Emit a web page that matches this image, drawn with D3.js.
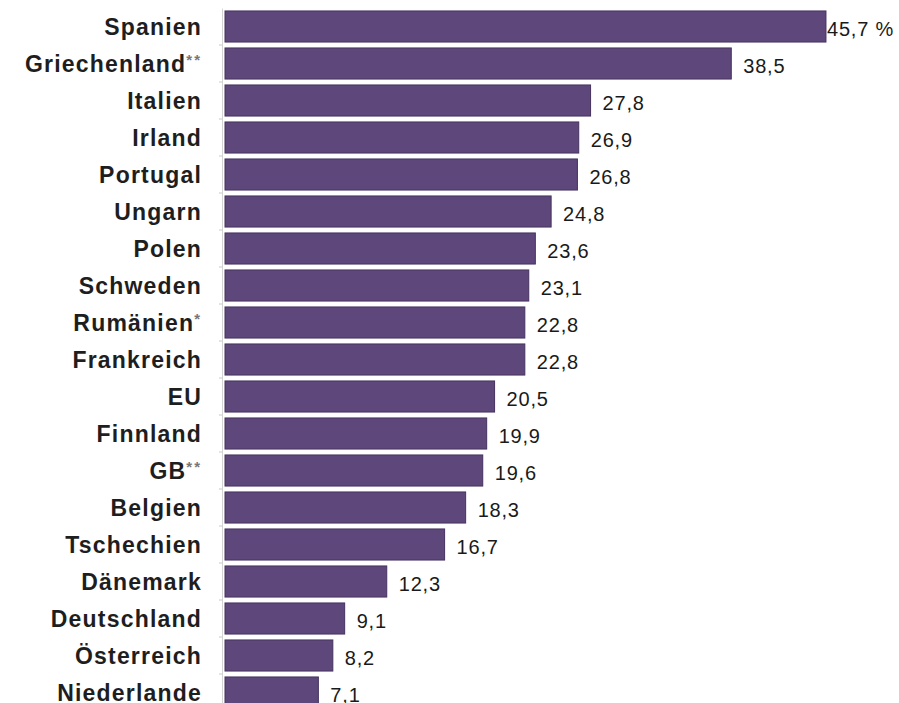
<!DOCTYPE html>
<html>
<head>
<meta charset="utf-8">
<script src="https://cdn.jsdelivr.net/npm/d3@7"></script>
<style>
  body { margin: 0; background: #fff; }
  svg { display: block; }
</style>
</head>
<body>
<svg width="899" height="703"></svg>
<script>
var countries = ['Spanien', 'Griechenland**', 'Italien', 'Irland', 'Portugal', 'Ungarn', 'Polen',
  'Schweden', 'Rumänien*', 'Frankreich', 'EU', 'Finnland', 'GB**', 'Belgien', 'Tschechien',
  'Dänemark', 'Deutschland', 'Österreich', 'Niederlande'];
var values = [45.7, 38.5, 27.8, 26.9, 26.8, 24.8, 23.6, 23.1, 22.8, 22.8, 20.5, 19.9, 19.6,
  18.3, 16.7, 12.3, 9.1, 8.2, 7.1];
var valueLabels = ['45,7 %', '38,5', '27,8', '26,9', '26,8', '24,8', '23,6', '23,1', '22,8',
  '22,8', '20,5', '19,9', '19,6', '18,3', '16,7', '12,3', '9,1', '8,2', '7,1'];

var svg = d3.select('svg');
var width = +svg.attr('width');
var height = +svg.attr('height');

var data = countries.map(function(c, i) {
  return { name: c, value: values[i], label: valueLabels[i] };
});

var x = d3.scaleLinear()
  .domain([0, 50])
  .range([225, 882.5]);

var y = d3.scaleBand()
  .domain(countries)
  .range([8, 711])
  .paddingInner(0.16)
  .paddingOuter(0.08);

// faint axis line with little ticks between the bars
var axis = svg.append('g')
  .attr('transform', 'translate(222,0)')
  .call(d3.axisLeft(y).tickSize(0).tickFormat(''));
axis.select('.domain').attr('stroke', '#d4d4d4');
axis.selectAll('.sep')
  .data(countries.slice(1))
  .enter()
  .append('line')
  .attr('x1', -3)
  .attr('x2', 0)
  .attr('y1', function(d) { return y(d) - y.step() * y.paddingInner() / 2; })
  .attr('y2', function(d) { return y(d) - y.step() * y.paddingInner() / 2; })
  .attr('stroke', '#c8c8c8');

svg.selectAll('rect.bar')
  .data(data)
  .enter()
  .append('rect')
  .attr('class', 'bar')
  .attr('x', x(0))
  .attr('y', function(d) { return y(d.name); })
  .attr('width', function(d) { return x(d.value) - x(0); })
  .attr('height', y.bandwidth())
  .attr('fill', '#5e477b')
  .attr('stroke', '#45325e')
  .attr('stroke-width', 1);

// country names
svg.selectAll('text.name')
  .data(data)
  .enter()
  .append('text')
  .attr('class', 'name')
  .attr('x', 202)
  .attr('y', function(d) { return y(d.name) + y.bandwidth() / 2 + 8; })
  .attr('text-anchor', 'end')
  .style('font-family', 'Liberation Sans, Arial, sans-serif')
  .style('font-weight', 'bold')
  .style('font-size', '23px')
  .style('letter-spacing', '1.2px')
  .style('fill', '#1e1e1e')
  .each(function(d) {
    var t = d3.select(this);
    var m = d.name.match(/^(.*?)(\*+)$/);
    if (m) {
      t.append('tspan').text(m[1]);
      t.append('tspan').attr('dy', -7).style('font-size', '15px').style('letter-spacing', '2px')
        .style('fill', '#777').text(m[2]);
    } else {
      t.text(d.name);
    }
  });

// value labels
svg.selectAll('text.val')
  .data(data)
  .enter()
  .append('text')
  .attr('class', 'val')
  .attr('x', function(d, i) { return x(d.value) + (i === 0 ? 1 : 12); })
  .attr('y', function(d) { return y(d.name) + y.bandwidth() / 2 + 9; })
  .style('font-family', 'Liberation Sans, Arial, sans-serif')
  .style('font-size', '20px')
  .style('letter-spacing', '0.8px')
  .style('fill', '#1a1a1a')
  .text(function(d) { return d.label; });
</script>
</body>
</html>
